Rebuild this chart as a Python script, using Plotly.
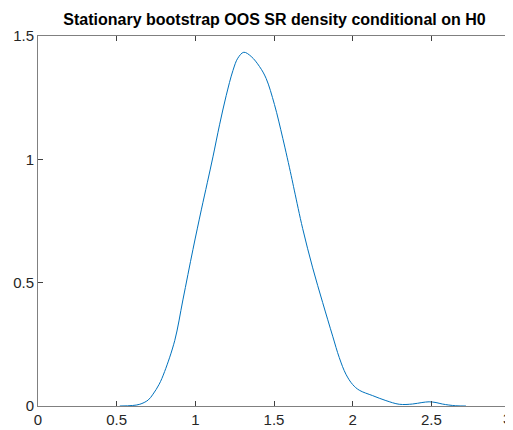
import plotly.graph_objects as go

sr_values = [0.52, 0.60, 0.647, 0.70, 0.731, 0.77, 0.805, 0.869, 0.921, 0.985, 1.038, 1.076,
             1.112, 1.154, 1.196, 1.239, 1.27, 1.308, 1.355, 1.408, 1.45, 1.503, 1.556, 1.609,
             1.63, 1.682, 1.746, 1.809, 1.873, 1.915, 1.957, 2.0, 2.042, 2.127, 2.211, 2.296,
             2.38, 2.44, 2.486, 2.53, 2.57, 2.655, 2.72]
density = [0.0, 0.002, 0.007, 0.024, 0.048, 0.088, 0.14, 0.265, 0.43, 0.635, 0.795, 0.905,
           1.010, 1.140, 1.258, 1.360, 1.410, 1.434, 1.417, 1.376, 1.328, 1.222, 1.085, 0.935,
           0.872, 0.720, 0.560, 0.420, 0.283, 0.196, 0.129, 0.087, 0.064, 0.042, 0.022, 0.007,
           0.008, 0.014, 0.017, 0.014, 0.008, 0.001, 0.0]

x_ticks = [0, 0.5, 1, 1.5, 2, 2.5]
x_tick_labels = ["0", "0.5", "1", "1.5", "2", "2.5"]
x_last_tick = 3
y_ticks = [0, 0.5, 1, 1.5]
y_tick_labels = ["0", "0.5", "1", "1.5"]

FONT = "Liberation Sans, Arial, sans-serif"

fig = go.Figure()
fig.add_trace(go.Scatter(x=sr_values, y=density, mode="lines",
                         line=dict(color="#0072BD", width=1, shape="spline", smoothing=1.0),
                         showlegend=False, hoverinfo="skip"))

axis_common = dict(showgrid=False, zeroline=False, showline=True, linecolor="#808080",
                   linewidth=1, mirror="ticks", ticks="inside", ticklen=5, tickcolor="#404040",
                   tickfont=dict(family=FONT, size=15, color="#262626"))

# page body has an 8px offset; compensate so the plot area sits at x 38..511, y 36..409
W, H = 505, 422
fig.update_layout(
    width=W, height=H,
    margin=dict(l=30, r=2, t=28, b=13),
    paper_bgcolor="white", plot_bgcolor="white",
    title=dict(text="<b>Stationary bootstrap OOS SR density conditional on H0</b>",
               x=(30 + W - 2) / 2 / W, xanchor="center", y=1 - 11 / H, yanchor="middle",
               font=dict(family=FONT, size=16, color="black")),
    xaxis=dict(range=[0, 3], tickvals=x_ticks + [x_last_tick], ticktext=x_tick_labels + [""],
               **axis_common),
    yaxis=dict(range=[0, 1.5], tickvals=y_ticks, ticktext=y_tick_labels, **axis_common),
)
fig.add_annotation(x=1, y=0, xref="paper", yref="paper", text=str(x_last_tick),
                   showarrow=False, xanchor="right", yanchor="top", xshift=3, yshift=-2,
                   font=dict(family=FONT, size=15, color="#262626"))

fig.write_html("out.html")
